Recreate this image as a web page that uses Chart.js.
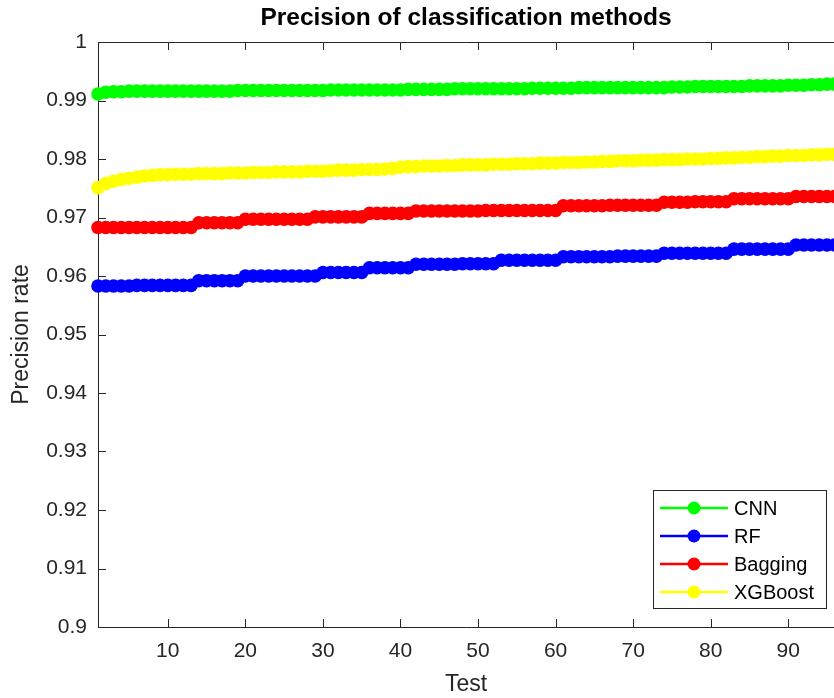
<!DOCTYPE html>
<html>
<head>
<meta charset="utf-8">
<title>Precision of classification methods</title>
<script src="https://cdn.jsdelivr.net/npm/chart.js@4.4.1/dist/chart.umd.min.js"></script>
<style>
  html, body { margin: 0; padding: 0; background: #fff; }
  #wrap { width: 834px; height: 698px; }
</style>
</head>
<body>
<div id="wrap"><canvas id="precisionChart" width="834" height="698"></canvas></div>
<script>
// test number on the x axis
const tests = [
   1,  2,  3,  4,  5,  6,  7,  8,  9, 10,
  11, 12, 13, 14, 15, 16, 17, 18, 19, 20,
  21, 22, 23, 24, 25, 26, 27, 28, 29, 30,
  31, 32, 33, 34, 35, 36, 37, 38, 39, 40,
  41, 42, 43, 44, 45, 46, 47, 48, 49, 50,
  51, 52, 53, 54, 55, 56, 57, 58, 59, 60,
  61, 62, 63, 64, 65, 66, 67, 68, 69, 70,
  71, 72, 73, 74, 75, 76, 77, 78, 79, 80,
  81, 82, 83, 84, 85, 86, 87, 88, 89, 90,
  91, 92, 93, 94, 95, 96
];

const cnnPrec = [
  0.9911, 0.9914, 0.9915, 0.9915, 0.9916, 0.9916, 0.9916, 0.9916, 0.9916, 0.9916,
  0.9916, 0.9916, 0.9916, 0.9916, 0.9916, 0.9916, 0.9916, 0.9916, 0.9917, 0.9917,
  0.9917, 0.9917, 0.9917, 0.9917, 0.9917, 0.9917, 0.9917, 0.9917, 0.9917, 0.9917,
  0.9918, 0.9918, 0.9918, 0.9918, 0.9918, 0.9918, 0.9918, 0.9918, 0.9918, 0.9918,
  0.9919, 0.9919, 0.9919, 0.9919, 0.9919, 0.9919, 0.9920, 0.9920, 0.9920, 0.9920,
  0.9920, 0.9920, 0.9920, 0.9920, 0.9920, 0.9920, 0.9921, 0.9921, 0.9921, 0.9921,
  0.9921, 0.9921, 0.9922, 0.9922, 0.9922, 0.9922, 0.9922, 0.9922, 0.9922, 0.9922,
  0.9922, 0.9922, 0.9922, 0.9922, 0.9923, 0.9923, 0.9923, 0.9924, 0.9924, 0.9924,
  0.9924, 0.9924, 0.9924, 0.9924, 0.9925, 0.9925, 0.9925, 0.9925, 0.9925, 0.9926,
  0.9926, 0.9926, 0.9927, 0.9927, 0.9928, 0.9928
];

const rfPrec = [
  0.9583, 0.9583, 0.9583, 0.9583, 0.9583, 0.9584, 0.9584, 0.9584, 0.9584, 0.9584,
  0.9584, 0.9584, 0.9584, 0.9592, 0.9592, 0.9592, 0.9592, 0.9592, 0.9592, 0.9600,
  0.9600, 0.9600, 0.9600, 0.9600, 0.9600, 0.9600, 0.9600, 0.9600, 0.9600, 0.9606,
  0.9606, 0.9606, 0.9606, 0.9606, 0.9606, 0.9614, 0.9614, 0.9614, 0.9614, 0.9614,
  0.9614, 0.9620, 0.9620, 0.9620, 0.9620, 0.9620, 0.9620, 0.9621, 0.9621, 0.9621,
  0.9621, 0.9621, 0.9627, 0.9627, 0.9627, 0.9627, 0.9627, 0.9627, 0.9627, 0.9627,
  0.9633, 0.9633, 0.9633, 0.9633, 0.9633, 0.9633, 0.9633, 0.9634, 0.9634, 0.9634,
  0.9634, 0.9634, 0.9634, 0.9639, 0.9639, 0.9639, 0.9639, 0.9639, 0.9639, 0.9639,
  0.9639, 0.9639, 0.9646, 0.9646, 0.9646, 0.9646, 0.9646, 0.9646, 0.9646, 0.9646,
  0.9653, 0.9653, 0.9653, 0.9653, 0.9653, 0.9653
];

const baggingPrec = [
  0.9683, 0.9683, 0.9683, 0.9683, 0.9683, 0.9683, 0.9683, 0.9683, 0.9683, 0.9683,
  0.9683, 0.9683, 0.9683, 0.9691, 0.9691, 0.9691, 0.9691, 0.9691, 0.9691, 0.9697,
  0.9697, 0.9697, 0.9697, 0.9697, 0.9697, 0.9697, 0.9697, 0.9697, 0.9701, 0.9701,
  0.9701, 0.9701, 0.9701, 0.9701, 0.9701, 0.9707, 0.9707, 0.9707, 0.9707, 0.9707,
  0.9707, 0.9711, 0.9711, 0.9711, 0.9711, 0.9711, 0.9711, 0.9711, 0.9711, 0.9711,
  0.9712, 0.9712, 0.9712, 0.9712, 0.9712, 0.9712, 0.9712, 0.9712, 0.9712, 0.9712,
  0.9720, 0.9720, 0.9720, 0.9720, 0.9720, 0.9720, 0.9721, 0.9721, 0.9721, 0.9721,
  0.9721, 0.9721, 0.9721, 0.9726, 0.9726, 0.9726, 0.9726, 0.9727, 0.9727, 0.9727,
  0.9727, 0.9727, 0.9732, 0.9732, 0.9732, 0.9732, 0.9732, 0.9732, 0.9732, 0.9732,
  0.9736, 0.9736, 0.9736, 0.9736, 0.9736, 0.9736
];

const xgboostPrec = [
  0.9751, 0.9758, 0.9762, 0.9765, 0.9767, 0.9769, 0.9771, 0.9772, 0.9773, 0.9773,
  0.9774, 0.9774, 0.9774, 0.9775, 0.9775, 0.9775, 0.9775, 0.9776, 0.9776, 0.9776,
  0.9777, 0.9777, 0.9777, 0.9778, 0.9778, 0.9778, 0.9778, 0.9779, 0.9779, 0.9779,
  0.9780, 0.9781, 0.9781, 0.9781, 0.9782, 0.9782, 0.9782, 0.9783, 0.9784, 0.9786,
  0.9787, 0.9787, 0.9788, 0.9788, 0.9788, 0.9789, 0.9789, 0.9790, 0.9790, 0.9790,
  0.9790, 0.9791, 0.9791, 0.9791, 0.9792, 0.9792, 0.9792, 0.9793, 0.9793, 0.9793,
  0.9794, 0.9794, 0.9794, 0.9795, 0.9795, 0.9796, 0.9796, 0.9797, 0.9797, 0.9797,
  0.9798, 0.9798, 0.9798, 0.9799, 0.9799, 0.9799, 0.9800, 0.9800, 0.9800, 0.9801,
  0.9801, 0.9802, 0.9802, 0.9803, 0.9803, 0.9804, 0.9804, 0.9805, 0.9805, 0.9806,
  0.9806, 0.9806, 0.9807, 0.9807, 0.9808, 0.9808
];

const xTicks = [10, 20, 30, 40, 50, 60, 70, 80, 90];
const yTicks = [0.9, 0.91, 0.92, 0.93, 0.94, 0.95, 0.96, 0.97, 0.98, 0.99, 1];

const FONT = "'Liberation Sans', Arial, Helvetica, sans-serif";
const INK = '#262626';

// pair each value with its test number
const toPoints = vals => vals.map((v, i) => ({ x: tests[i], y: v }));

// matlab style box: axis lines + ticks pointing inwards
const matlabAxes = {
    id: 'matlabAxes',
    beforeDatasetsDraw(chart) {
        const { ctx, chartArea: a, scales: { x, y } } = chart;
        const tl = 8;
        ctx.save();
        ctx.strokeStyle = INK;
        ctx.lineWidth = 1;
        ctx.beginPath();
        ctx.moveTo(a.left + 0.5, a.top + 0.5);
        ctx.lineTo(a.left + 0.5, a.bottom + 0.5);
        ctx.lineTo(a.right, a.bottom + 0.5);
        ctx.moveTo(a.left + 0.5, a.top + 0.5);
        ctx.lineTo(a.right, a.top + 0.5);
        xTicks.forEach(v => {
            const px = Math.round(x.getPixelForValue(v)) + 0.5;
            ctx.moveTo(px, a.bottom);
            ctx.lineTo(px, a.bottom - tl);
            ctx.moveTo(px, a.top);
            ctx.lineTo(px, a.top + tl);
        });
        yTicks.forEach(v => {
            const py = Math.round(y.getPixelForValue(v)) + 0.5;
            ctx.moveTo(a.left, py);
            ctx.lineTo(a.left + tl, py);
        });
        ctx.stroke();
        ctx.restore();
    }
};

// legend box in the lower right corner of the axes
const boxLegend = {
    id: 'boxLegend',
    afterDraw(chart) {
        const { ctx, chartArea: a } = chart;
        const w = 173, h = 118;
        const bx = Math.round(a.right) - 8 - w, by = Math.round(a.bottom) - 19 - h;
        ctx.save();
        ctx.fillStyle = '#fff';
        ctx.fillRect(bx, by, w, h);
        ctx.strokeStyle = INK;
        ctx.lineWidth = 1;
        ctx.strokeRect(bx + 0.5, by + 0.5, w, h);
        ctx.font = '20px ' + FONT;
        ctx.textBaseline = 'middle';
        ctx.textAlign = 'left';
        chart.data.datasets.forEach((ds, i) => {
            const ry = by + 18 + i * 28;
            ctx.strokeStyle = ds.borderColor;
            ctx.lineWidth = 2.5;
            ctx.beginPath();
            ctx.moveTo(bx + 7, ry);
            ctx.lineTo(bx + 75, ry);
            ctx.stroke();
            ctx.fillStyle = ds.backgroundColor;
            ctx.beginPath();
            ctx.arc(bx + 41, ry, 6.5, 0, Math.PI * 2);
            ctx.fill();
            ctx.fillStyle = '#000';
            ctx.fillText(ds.label, bx + 81, ry + 1);
        });
        ctx.restore();
    }
};

const series = [
    { label: 'CNN', vals: cnnPrec, color: '#00ff00' },
    { label: 'RF', vals: rfPrec, color: '#0000ff' },
    { label: 'Bagging', vals: baggingPrec, color: '#ff0000' },
    { label: 'XGBoost', vals: xgboostPrec, color: '#ffff00' }
];

new Chart(document.getElementById('precisionChart'), {
    type: 'line',
    data: {
        datasets: series.map(s => ({
            label: s.label,
            data: toPoints(s.vals),
            borderColor: s.color,
            backgroundColor: s.color,
            borderWidth: 2,
            pointRadius: 6.8,
            pointBorderWidth: 0,
            pointBackgroundColor: s.color,
            tension: 0,
            clip: false
        }))
    },
    options: {
        responsive: false,
        animation: false,
        events: [],
        // no extra room for the markers, the plot is cut at the figure edge
        layout: { padding: 0, autoPadding: false },
        plugins: {
            legend: { display: false },
            tooltip: { enabled: false },
            title: {
                display: true,
                fullSize: false,
                text: 'Precision of classification methods',
                color: '#000',
                font: { family: FONT, size: 24.5, weight: 'bold' },
                padding: { top: 4, bottom: 8.6 }
            }
        },
        scales: {
            x: {
                type: 'linear',
                min: 1,
                max: 95.9,
                afterBuildTicks: s => { s.ticks = xTicks.map(v => ({ value: v })); },
                afterFit: s => {
                    s.height = 71;
                    s.paddingLeft = 0;
                    s.paddingRight = 0;
                },
                grid: { display: false, drawTicks: false },
                border: { display: false },
                ticks: {
                    color: INK,
                    padding: 12,
                    maxRotation: 0,
                    font: { family: FONT, size: 21 }
                },
                title: {
                    display: true,
                    text: 'Test',
                    color: INK,
                    font: { family: FONT, size: 23 },
                    padding: { top: 0, bottom: 0 }
                }
            },
            y: {
                min: 0.9,
                max: 1,
                afterBuildTicks: s => { s.ticks = yTicks.map(v => ({ value: v })); },
                afterFit: s => { s.width = 98; },
                grid: { display: false, drawTicks: false },
                border: { display: false },
                ticks: {
                    color: INK,
                    padding: 11,
                    font: { family: FONT, size: 21 },
                    callback: v => String(Number(v.toFixed(2)))
                },
                title: {
                    display: true,
                    text: 'Precision rate',
                    color: INK,
                    font: { family: FONT, size: 23 },
                    padding: { top: 8, bottom: 0 }
                }
            }
        }
    },
    plugins: [matlabAxes, boxLegend]
});
</script>
</body>
</html>
